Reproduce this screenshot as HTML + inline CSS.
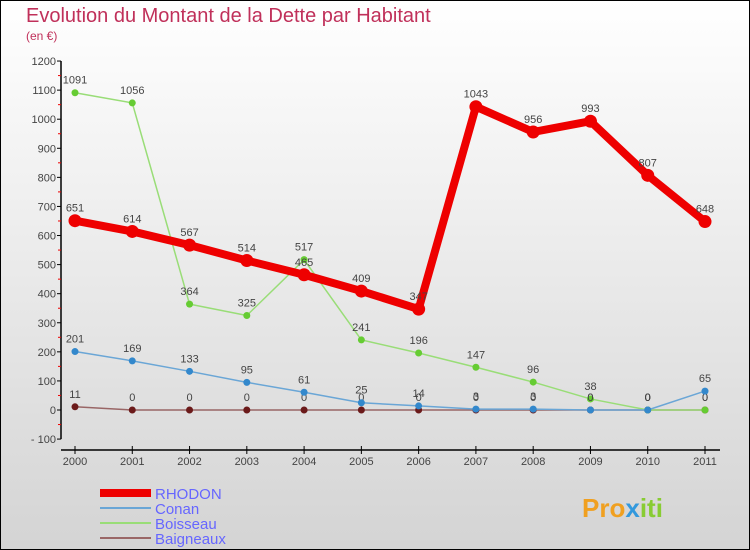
<!DOCTYPE html>
<html><head><meta charset="utf-8"><style>
body{margin:0;width:750px;height:550px;overflow:hidden;font-family:"Liberation Sans",sans-serif}
#wrap{position:absolute;left:0;top:0;width:748px;height:548px;border:1px solid #000;background:linear-gradient(#ffffff,#d4d4d4)}
</style></head><body>
<div id="wrap">
<svg id="chart" width="750" height="550" style="position:absolute;left:-1px;top:-1px">
<text x="26" y="22" font-size="20" fill="#c0305a">Evolution du Montant de la Dette par Habitant</text>
<text x="26" y="40" font-size="12" fill="#c0305a">(en €)</text>
<g id="axes"></g><g id="series"></g>
<g>
<rect x="100" y="489" width="51" height="8" fill="#e00"/>
<text x="155" y="499" font-size="15" fill="#6666ff">RHODON</text>
<line x1="100" y1="508" x2="151" y2="508" stroke="#6aa6d6" stroke-width="2"/>
<text x="155" y="514" font-size="15" fill="#6666ff">Conan</text>
<line x1="100" y1="523" x2="151" y2="523" stroke="#99dd77" stroke-width="2"/>
<text x="155" y="529" font-size="15" fill="#6666ff">Boisseau</text>
<line x1="100" y1="538" x2="151" y2="538" stroke="#996666" stroke-width="2"/>
<text x="155" y="544" font-size="15" fill="#6666ff">Baigneaux</text>
</g>
<text x="582" y="517" font-size="26" font-weight="bold"><tspan fill="#f0a020">Pro</tspan><tspan fill="#3399dd">x</tspan><tspan fill="#88cc33">iti</tspan></text>
</svg>
</div>
<script>
const years=[2000,2001,2002,2003,2004,2005,2006,2007,2008,2009,2010,2011];
const yTicks=[-100,0,100,200,300,400,500,600,700,800,900,1000,1100,1200];
const rhodon=[651,614,567,514,465,409,347,1043,956,993,807,648];
const conan=[201,169,133,95,61,25,14,3,3,0,0,65];
const boisseau=[1091,1056,364,325,517,241,196,147,96,38,0,0];
const baigneaux=[11,0,0,0,0,0,0,0,0,0,0,0];
const NS="http://www.w3.org/2000/svg";
function X(i){return 75+i*(630/11);}
function Y(v){return 410-v*0.2908;}
function mk(t,a,p){const e=document.createElementNS(NS,t);for(const k in a)e.setAttribute(k,a[k]);p.appendChild(e);return e;}
const ax=document.getElementById('axes');
let l=mk('line',{x1:61,y1:Y(1200),x2:61,y2:Y(-100),stroke:'#000','stroke-width':1.5},ax);


yTicks.forEach(v=>{
 mk('line',{x1:57,y1:Y(v),x2:61,y2:Y(v),stroke:'#000'},ax);
 if(v<1200)mk('line',{x1:58,y1:Y(v+50),x2:61,y2:Y(v+50),stroke:'#e00'},ax);
 const t=mk('text',{x:56,y:Y(v)+4,'text-anchor':'end','font-size':11,fill:'#444'},ax);
 t.textContent=v<0?'- '+(-v):v;
 
 
});
l=mk('line',{x1:61,y1:450,x2:720,y2:450,stroke:'#000','stroke-width':1.5},ax);


years.forEach((y,i)=>{
 mk('line',{x1:X(i),y1:446,x2:X(i),y2:454,stroke:'#000'},ax);
 const t=mk('text',{x:X(i),y:465,'text-anchor':'middle','font-size':11,fill:'#444'},ax);
 t.textContent=y;
 
 
});
const sg=document.getElementById('series');
function draw(name,data,color,w,r,dot){
 const g=mk('g',{},sg);
 
 
 const pl=mk('polyline',{points:data.map((v,i)=>X(i)+','+Y(v)).join(' '),fill:'none',stroke:color,'stroke-width':w,'stroke-linejoin':'round'},g);
 
 
 data.forEach((v,i)=>{
  const c=mk('circle',{cx:X(i),cy:Y(v),r:r,fill:dot},g);
  
  
  const t=mk('text',{x:X(i),y:Y(v)-9,'text-anchor':'middle','font-size':11,fill:'#444'},g);
  t.textContent=v;
  
  
 });
}
draw('baigneaux',baigneaux,'#996666',1.5,3.5,'#6b1a1a');
draw('boisseau',boisseau,'#99dd77',1.5,3.5,'#66cc33');
draw('conan',conan,'#6aa6d6',1.5,3.5,'#3388cc');
draw('rhodon',rhodon,'#ee0000',8,6.5,'#ee0000');
</script>
</body></html>
